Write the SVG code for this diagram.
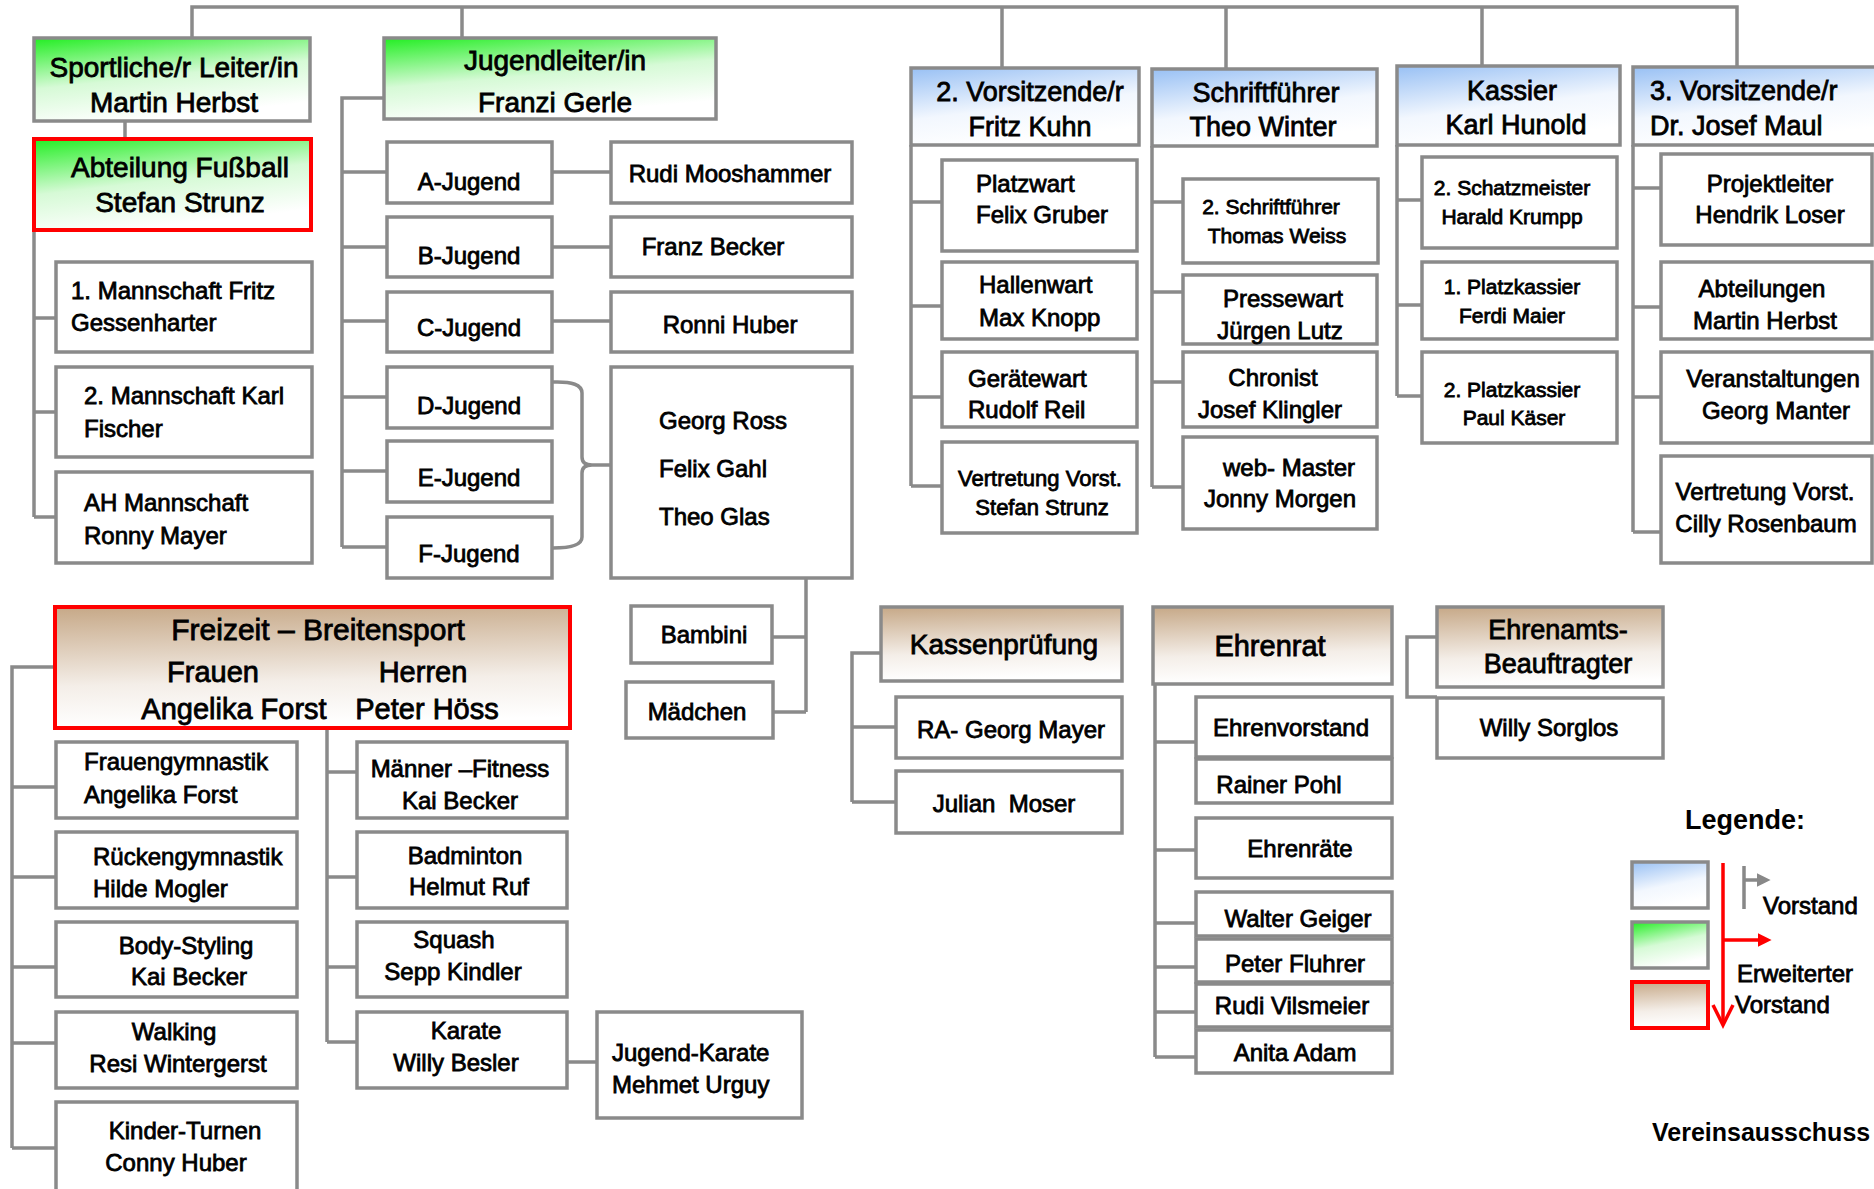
<svg xmlns="http://www.w3.org/2000/svg" width="1874" height="1189" viewBox="0 0 1874 1189">
<defs>
<linearGradient id="gBlue" x1="0" y1="0" x2="0.35" y2="1"><stop offset="0" stop-color="#98c0f4"/><stop offset="0.6" stop-color="#f2f7fe"/><stop offset="1" stop-color="#ffffff"/></linearGradient>
<linearGradient id="gGreen" x1="0" y1="0" x2="0.35" y2="1"><stop offset="0" stop-color="#22ee22"/><stop offset="0.55" stop-color="#d6fad6"/><stop offset="1" stop-color="#ffffff"/></linearGradient>
<linearGradient id="gBrown" x1="0" y1="0" x2="0.1" y2="1"><stop offset="0" stop-color="#c6a887"/><stop offset="0.65" stop-color="#f4eee8"/><stop offset="1" stop-color="#ffffff"/></linearGradient>
<marker id="aGray" viewBox="0 0 10 10" refX="1" refY="5" markerWidth="4" markerHeight="4.5" orient="auto" markerUnits="strokeWidth"><path d="M0,0 L10,5 L0,10 z" fill="#888"/></marker>
<marker id="aRed" viewBox="0 0 10 10" refX="1" refY="5" markerWidth="4" markerHeight="4.5" orient="auto" markerUnits="strokeWidth"><path d="M0,0 L10,5 L0,10 z" fill="#f00"/></marker>
</defs>
<style>
.box{fill:#fff;stroke:#8a8a8a;stroke-width:3.5}
.blue{fill:url(#gBlue)}
.green{fill:url(#gGreen)}
.brown{fill:url(#gBrown)}
.red{stroke:#f00;stroke-width:4}
text{font-family:"Liberation Sans",Arial,sans-serif;font-size:24px;fill:#000;stroke:#000;stroke-width:0.8}
.c{text-anchor:middle}
.h{font-size:28px}
.m{font-size:22px}
.s{font-size:21px}
.conn{fill:none;stroke:#8a8a8a;stroke-width:3.5}
</style>

<g id="connectors">
<path class="conn" d="M192,38 V7 H1737 V67 M462,7 V38 M1002,7 V68 M1226,7 V69 M1482,7 V66"/>
<path class="conn" d="M125,121 V139 M34,230 V517 M34,318 H56 M34,412 H56 M34,517 H56"/>
<path class="conn" d="M384,98 H342 V547 M342,172 H387 M342,247 H387 M342,321 H387 M342,397 H387 M342,471 H387 M342,547 H387"/>
<path class="conn" d="M552,172 H611 M552,247 H611 M552,321 H611"/>
<path class="conn" d="M553,382 Q582,381 582,393 V457 Q582,465 592,465 H612 M553,548 Q582,548 582,537 V473 Q582,465 592,465"/>
<path class="conn" d="M806,578 V712 M772,637 H806 M773,712 H806"/>
<path class="conn" d="M55,667 H12 V1148 M12,787 H56 M12,877 H56 M12,967 H56 M12,1043 H56 M12,1148 H56"/>
<path class="conn" d="M327,728 V1042 M327,772 H357 M327,877 H357 M327,967 H357 M327,1042 H357 M567,1062 H597"/>
<path class="conn" d="M911,145 V486 M911,202 H942 M911,306 H942 M911,397 H942 M911,486 H942"/>
<path class="conn" d="M1152,146 V487 M1152,202 H1183 M1152,292 H1183 M1152,382 H1183 M1152,487 H1183"/>
<path class="conn" d="M1397,145 V396 M1397,200 H1422 M1397,305 H1422 M1397,396 H1422"/>
<path class="conn" d="M1633,145 V532 M1633,188 H1661 M1633,307 H1661 M1633,397 H1661 M1633,532 H1661"/>
<path class="conn" d="M881,653 H852 V802 M852,727 H896 M852,802 H896"/>
<path class="conn" d="M1155,684 V1057 M1155,742 H1196 M1155,850 H1196 M1155,923 H1196 M1155,967 H1196 M1155,1012 H1196 M1155,1057 H1196"/>
<path class="conn" d="M1437,637 H1407 V697 H1437"/>
</g>

<g id="n-sportlich"><rect class="box green" x="34" y="38" width="276" height="83"/><text class="c h" x="174" y="77">Sportliche/r Leiter/in</text><text class="c h" x="174" y="112">Martin Herbst</text></g>
<g id="n-fussball"><rect class="box green red" x="34" y="139" width="277" height="91"/><text class="c h" x="180" y="177">Abteilung Fußball</text><text class="c h" x="180" y="212">Stefan Strunz</text></g>
<g id="n-m1"><rect class="box" x="56" y="262" width="256" height="90"/><text x="71" y="299">1. Mannschaft Fritz</text><text x="71" y="331">Gessenharter</text></g>
<g id="n-m2"><rect class="box" x="56" y="367" width="256" height="90"/><text x="84" y="404">2. Mannschaft Karl</text><text x="84" y="437">Fischer</text></g>
<g id="n-ah"><rect class="box" x="56" y="472" width="256" height="91"/><text x="84" y="511">AH Mannschaft</text><text x="84" y="544">Ronny Mayer</text></g>

<g id="n-jugendleiter"><rect class="box green" x="384" y="38" width="332" height="81"/><text class="c h" x="555" y="70">Jugendleiter/in</text><text class="c h" x="555" y="112">Franzi Gerle</text></g>
<g id="n-aj"><rect class="box" x="387" y="142" width="165" height="61"/><text class="c" x="469" y="190">A-Jugend</text></g>
<g id="n-bj"><rect class="box" x="387" y="217" width="165" height="60"/><text class="c" x="469" y="264">B-Jugend</text></g>
<g id="n-cj"><rect class="box" x="387" y="292" width="165" height="60"/><text class="c" x="469" y="336">C-Jugend</text></g>
<g id="n-dj"><rect class="box" x="387" y="367" width="165" height="61"/><text class="c" x="469" y="414">D-Jugend</text></g>
<g id="n-ej"><rect class="box" x="387" y="441" width="165" height="61"/><text class="c" x="469" y="486">E-Jugend</text></g>
<g id="n-fj"><rect class="box" x="387" y="517" width="165" height="61"/><text class="c" x="469" y="562">F-Jugend</text></g>
<g id="n-rudi"><rect class="box" x="611" y="142" width="241" height="61"/><text class="c" x="730" y="182">Rudi Mooshammer</text></g>
<g id="n-franz"><rect class="box" x="611" y="217" width="241" height="60"/><text class="c" x="713" y="255">Franz Becker</text></g>
<g id="n-ronni"><rect class="box" x="611" y="292" width="241" height="60"/><text class="c" x="730" y="333">Ronni Huber</text></g>
<g id="n-georg"><rect class="box" x="611" y="367" width="241" height="211"/><text x="659" y="429">Georg Ross</text><text x="659" y="477">Felix Gahl</text><text x="659" y="525">Theo Glas</text></g>
<g id="n-bambini"><rect class="box" x="631" y="606" width="141" height="57"/><text class="c" x="704" y="643">Bambini</text></g>
<g id="n-maedchen"><rect class="box" x="626" y="682" width="147" height="56"/><text class="c" x="697" y="720">Mädchen</text></g>

<g id="n-freizeit"><rect class="box brown red" x="55" y="607" width="515" height="121"/><text class="c" style="font-size:30px" x="318" y="640">Freizeit – Breitensport</text><text class="c" style="font-size:29px" x="213" y="682">Frauen</text><text class="c" style="font-size:29px" x="423" y="682">Herren</text><text class="c" style="font-size:29px" x="234" y="719">Angelika Forst</text><text class="c" style="font-size:29px" x="427" y="719">Peter Höss</text></g>
<g id="n-frauengym"><rect class="box" x="56" y="742" width="241" height="76"/><text x="84" y="770">Frauengymnastik</text><text x="84" y="803">Angelika Forst</text></g>
<g id="n-ruecken"><rect class="box" x="56" y="832" width="241" height="76"/><text x="93" y="865">Rückengymnastik</text><text x="93" y="897">Hilde Mogler</text></g>
<g id="n-body"><rect class="box" x="56" y="922" width="241" height="75"/><text class="c" x="186" y="954">Body-Styling</text><text class="c" x="189" y="985">Kai Becker</text></g>
<g id="n-walking"><rect class="box" x="56" y="1012" width="241" height="76"/><text class="c" x="174" y="1040">Walking</text><text class="c" x="178" y="1072">Resi Wintergerst</text></g>
<g id="n-kinder"><rect class="box" x="56" y="1102" width="241" height="100"/><text class="c" x="185" y="1139">Kinder-Turnen</text><text class="c" x="176" y="1171">Conny Huber</text></g>
<g id="n-maenner"><rect class="box" x="357" y="742" width="210" height="76"/><text class="c" x="460" y="777">Männer –Fitness</text><text class="c" x="460" y="809">Kai Becker</text></g>
<g id="n-badminton"><rect class="box" x="357" y="832" width="210" height="76"/><text class="c" x="465" y="864">Badminton</text><text class="c" x="469" y="895">Helmut Ruf</text></g>
<g id="n-squash"><rect class="box" x="357" y="922" width="210" height="75"/><text class="c" x="454" y="948">Squash</text><text class="c" x="453" y="980">Sepp Kindler</text></g>
<g id="n-karate"><rect class="box" x="357" y="1012" width="210" height="76"/><text class="c" x="466" y="1039">Karate</text><text class="c" x="456" y="1071">Willy Besler</text></g>
<g id="n-jkarate"><rect class="box" x="597" y="1012" width="205" height="106"/><text x="612" y="1061">Jugend-Karate</text><text x="612" y="1093">Mehmet Urguy</text></g>

<g id="n-vors2"><rect class="box blue" x="911" y="68" width="228" height="77"/><text class="c" style="font-size:27px" x="1030" y="101">2. Vorsitzende/r</text><text class="c" style="font-size:27px" x="1030" y="136">Fritz Kuhn</text></g>
<g id="n-platzwart"><rect class="box" x="942" y="160" width="195" height="91"/><text x="976" y="192">Platzwart</text><text x="976" y="223">Felix Gruber</text></g>
<g id="n-hallenwart"><rect class="box" x="942" y="262" width="195" height="77"/><text x="979" y="293">Hallenwart</text><text x="979" y="326">Max Knopp</text></g>
<g id="n-geraetewart"><rect class="box" x="942" y="352" width="195" height="75"/><text x="968" y="387">Gerätewart</text><text x="968" y="418">Rudolf Reil</text></g>
<g id="n-vertretung1"><rect class="box" x="942" y="442" width="195" height="91"/><text class="c m" x="1040" y="486">Vertretung Vorst.</text><text class="c m" x="1042" y="515">Stefan Strunz</text></g>

<g id="n-schrift"><rect class="box blue" x="1152" y="69" width="225" height="77"/><text class="c" style="font-size:27px" x="1266" y="102">Schriftführer</text><text class="c" style="font-size:27px" x="1263" y="136">Theo Winter</text></g>
<g id="n-schrift2"><rect class="box" x="1183" y="179" width="195" height="84"/><text class="c s" x="1271" y="214">2. Schriftführer</text><text class="c s" x="1277" y="243">Thomas Weiss</text></g>
<g id="n-presse"><rect class="box" x="1183" y="275" width="194" height="69"/><text class="c" x="1283" y="307">Pressewart</text><text class="c" x="1280" y="339">Jürgen Lutz</text></g>
<g id="n-chronist"><rect class="box" x="1183" y="352" width="194" height="75"/><text class="c" x="1273" y="386">Chronist</text><text class="c" x="1270" y="418">Josef Klingler</text></g>
<g id="n-web"><rect class="box" x="1183" y="437" width="194" height="92"/><text class="c" x="1289" y="476">web- Master</text><text class="c" x="1280" y="507">Jonny Morgen</text></g>

<g id="n-kassier"><rect class="box blue" x="1397" y="66" width="223" height="79"/><text class="c" style="font-size:27px" x="1512" y="100">Kassier</text><text class="c" style="font-size:27px" x="1516" y="134">Karl Hunold</text></g>
<g id="n-schatz"><rect class="box" x="1422" y="157" width="195" height="91"/><text class="c s" x="1512" y="195">2. Schatzmeister</text><text class="c s" x="1512" y="224">Harald Krumpp</text></g>
<g id="n-pk1"><rect class="box" x="1422" y="262" width="195" height="77"/><text class="c s" x="1512" y="294">1. Platzkassier</text><text class="c s" x="1512" y="323">Ferdi Maier</text></g>
<g id="n-pk2"><rect class="box" x="1422" y="352" width="195" height="91"/><text class="c s" x="1512" y="397">2. Platzkassier</text><text class="c s" x="1514" y="425">Paul Käser</text></g>

<g id="n-vors3"><rect class="box blue" x="1633" y="67" width="245" height="78"/><text style="font-size:27px" x="1650" y="100">3. Vorsitzende/r</text><text style="font-size:27px" x="1650" y="135">Dr. Josef Maul</text></g>
<g id="n-projekt"><rect class="box" x="1661" y="154" width="211" height="91"/><text class="c" x="1770" y="192">Projektleiter</text><text class="c" x="1770" y="223">Hendrik Loser</text></g>
<g id="n-abteilungen"><rect class="box" x="1661" y="262" width="211" height="77"/><text class="c" x="1762" y="297">Abteilungen</text><text class="c" x="1765" y="329">Martin Herbst</text></g>
<g id="n-veranst"><rect class="box" x="1661" y="352" width="211" height="91"/><text class="c" x="1773" y="387">Veranstaltungen</text><text class="c" x="1776" y="419">Georg Manter</text></g>
<g id="n-vertretung2"><rect class="box" x="1661" y="456" width="211" height="107"/><text class="c" x="1765" y="500">Vertretung Vorst.</text><text class="c" x="1766" y="532">Cilly Rosenbaum</text></g>

<g id="n-kasse"><rect class="box brown" x="881" y="607" width="241" height="74"/><text class="c h" x="1004" y="654">Kassenprüfung</text></g>
<g id="n-ra"><rect class="box" x="896" y="697" width="226" height="61"/><text class="c" x="1011" y="738">RA- Georg Mayer</text></g>
<g id="n-julian"><rect class="box" x="896" y="771" width="226" height="62"/><text class="c" x="1004" y="812" xml:space="preserve">Julian  Moser</text></g>

<g id="n-ehrenrat"><rect class="box brown" x="1153" y="607" width="239" height="77"/><text class="c" style="font-size:29px" x="1270" y="656">Ehrenrat</text></g>
<g id="n-ehrenvorstand"><rect class="box" x="1196" y="697" width="196" height="60"/><text class="c" x="1291" y="736">Ehrenvorstand</text></g>
<g id="n-pohl"><rect class="box" x="1196" y="759" width="196" height="44"/><text class="c" x="1279" y="793">Rainer Pohl</text></g>
<g id="n-ehrenraete"><rect class="box" x="1196" y="818" width="196" height="60"/><text class="c" x="1300" y="857">Ehrenräte</text></g>
<g id="n-geiger"><rect class="box" x="1196" y="892" width="196" height="44"/><text class="c" x="1298" y="927">Walter Geiger</text></g>
<g id="n-fluhrer"><rect class="box" x="1196" y="939" width="196" height="43"/><text class="c" x="1295" y="972">Peter Fluhrer</text></g>
<g id="n-vilsmeier"><rect class="box" x="1196" y="984" width="196" height="43"/><text class="c" x="1292" y="1014">Rudi Vilsmeier</text></g>
<g id="n-adam"><rect class="box" x="1196" y="1030" width="196" height="43"/><text class="c" x="1295" y="1061">Anita Adam</text></g>

<g id="n-ehrenamt"><rect class="box brown" x="1437" y="607" width="226" height="80"/><text class="c" style="font-size:27px" x="1558" y="639">Ehrenamts-</text><text class="c" style="font-size:27px" x="1558" y="673">Beauftragter</text></g>
<g id="n-sorglos"><rect class="box" x="1437" y="698" width="226" height="60"/><text class="c" x="1549" y="736">Willy Sorglos</text></g>

<g id="legend">
<text class="c" style="font-size:27px;font-weight:bold;stroke-width:0" x="1745" y="829">Legende:</text>
<rect class="box blue" x="1632" y="862" width="76" height="46"/>
<rect class="box green" x="1632" y="922" width="76" height="46"/>
<rect class="box brown red" x="1632" y="982" width="76" height="46"/>
<path d="M1744,866 V909 M1744,880 H1758" fill="none" stroke="#888" stroke-width="3.5" marker-end="url(#aGray)"/>
<path d="M1723,863 V1022 M1723,940 H1759" fill="none" stroke="#f00" stroke-width="3.5" marker-end="url(#aRed)"/>
<path d="M1713,1005 L1723,1025 L1733,1005" fill="none" stroke="#f00" stroke-width="3.5"/>
<text x="1763" y="914">Vorstand</text>
<text x="1737" y="982">Erweiterter</text>
<text x="1735" y="1013">Vorstand</text>
<text style="font-size:25px;font-weight:bold;stroke-width:0" x="1652" y="1141">Vereinsausschuss</text>
</g>
</svg>
